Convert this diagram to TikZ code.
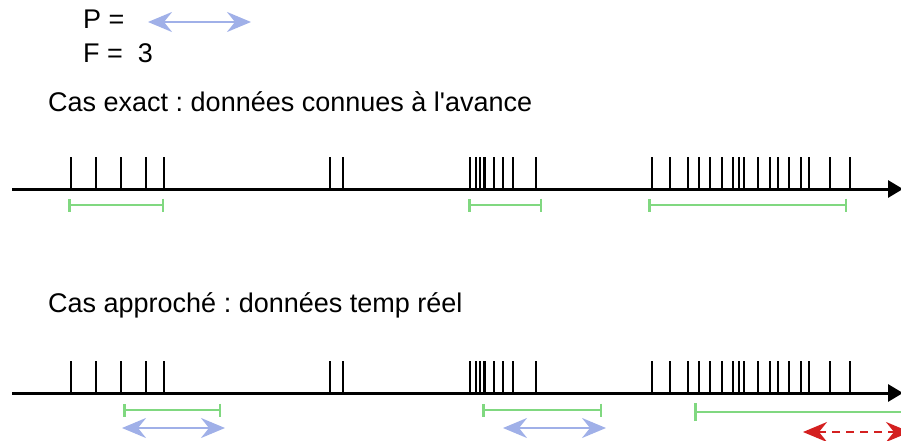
\documentclass[tikz,border=0pt]{standalone}
\usepackage{fontspec}
\setmainfont{Liberation Sans}[Ligatures=TeXOff]
\usepackage{tikz}
\usetikzlibrary{arrows.meta}
\frenchspacing

\definecolor{grn}{RGB}{128,216,128}
\definecolor{blu}{RGB}{160,176,232}
\definecolor{rd}{RGB}{212,32,32}

\begin{document}
\begin{tikzpicture}[x=1pt,y=-1pt,
	txt/.style={anchor=base west,inner sep=0pt,font=\fontsize{27}{32}\selectfont},
	tickmark/.style={line width=2.5pt},
	axis/.style={line width=3pt,-{Triangle[length=15pt,width=17pt]}},
	greenspan/.style={grn,line width=2.5pt,|-|,>={Bar[width=17pt]}},
	bluearrow/.style={blu,line width=2.5pt,{Stealth[length=24pt,width=20pt,inset=8pt]}-{Stealth[length=24pt,width=20pt,inset=8pt]}},
	redarrow/.style={rd,line width=2.5pt,dash pattern=on 8pt off 6pt,{Stealth[length=24pt,width=20pt,inset=8pt]}-{Stealth[length=24pt,width=20pt,inset=8pt]}}]
\useasboundingbox (0,0) rectangle (901,441);
	\node[txt] at (83,29) (P) {P =};
	\node[txt] at (83,63) (F) {F =\ \ 3};
	\node[txt] at (48,112) (exact) {Cas exact : données connues à l'avance};
	\node[txt] at (48,312) (approx) {Cas approché : données temp réel};
	\draw[bluearrow] (148,22) -- (251,22);
	% events, same on both lines
	\foreach \y in {189,393}{
		\foreach \x in {71,96,121,146,164,330,343,470,476,480,484.5,494,503,513,536,652,670,688,699,710,722,733,739,744,758,770,778,789,801,809,830,850}
			\draw[tickmark] (\x,\y-32) -- (\x,\y);
	}
	% exact
	\coordinate (a1) at (12,189);
	\coordinate (b1) at (903,189);
	\draw[axis] (a1) -- (b1);
	\draw[greenspan] (68,205) -- (164,205);
	\draw[greenspan] (468,205) -- (542,205);
	\draw[greenspan] (648,205) -- (847,205);
	% approche
	\coordinate (a2) at (12,393);
	\coordinate (b2) at (903,393);
	\draw[axis] (a2) -- (b2);
	\draw[greenspan] (123,410) -- (221,410);
	\draw[greenspan] (482,410) -- (602,410);
	\draw[grn,line width=2.5pt,{Bar[width=18pt]}-] (694,412) -- (901,412);
	\draw[bluearrow] (122,428) -- (225,428);
	\draw[bluearrow] (503,428) -- (606,428);
	\draw[redarrow] (803,432) -- (910,432);
\end{tikzpicture}
\end{document}
